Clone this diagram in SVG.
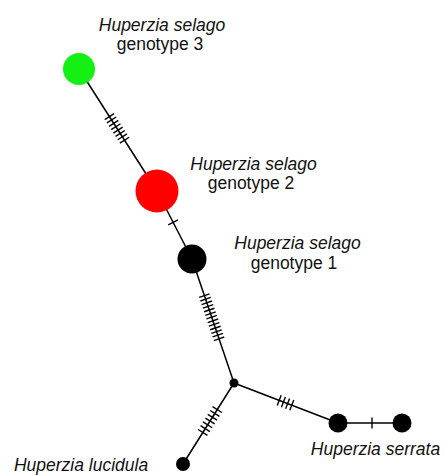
<svg xmlns="http://www.w3.org/2000/svg" width="445" height="475" viewBox="0 0 445 475">
<style>
.edge{stroke:#000;stroke-width:1.5;fill:none}
.tick line{stroke:#000;stroke-width:1.4}
.lbl{font-family:"Liberation Sans",Arial,sans-serif;font-size:17.5px;fill:#111;text-anchor:middle}
.it{font-style:italic}
</style>
<g id="connectors">
<line class="edge" x1="79" y1="69" x2="157" y2="191"/>
<line class="edge" x1="157" y1="191" x2="192" y2="259"/>
<line class="edge" x1="192" y1="259" x2="234" y2="383"/>
<line class="edge" x1="234" y1="383" x2="338" y2="423"/>
<line class="edge" x1="338" y1="423" x2="402" y2="423"/>
<line class="edge" x1="234" y1="383" x2="183" y2="464"/>
<g class="tick" transform="translate(109.4,116.6) rotate(57.4)">
<line x1="0" y1="-5.5" x2="0" y2="5.5"/><line x1="4" y1="-5.5" x2="4" y2="5.5"/><line x1="8" y1="-5.5" x2="8" y2="5.5"/><line x1="12" y1="-5.5" x2="12" y2="5.5"/><line x1="16" y1="-5.5" x2="16" y2="5.5"/><line x1="20" y1="-5.5" x2="20" y2="5.5"/><line x1="24" y1="-5.5" x2="24" y2="5.5"/><line x1="28" y1="-5.5" x2="28" y2="5.5"/>
</g>
<g class="tick" transform="translate(173.1,222.3) rotate(62.8)">
<line x1="0" y1="-5.5" x2="0" y2="5.5"/>
</g>
<g class="tick" transform="translate(204.4,295.6) rotate(71.3)">
<line x1="0" y1="-5.5" x2="0" y2="5.5"/><line x1="3.8" y1="-5.5" x2="3.8" y2="5.5"/><line x1="7.6" y1="-5.5" x2="7.6" y2="5.5"/><line x1="11.4" y1="-5.5" x2="11.4" y2="5.5"/><line x1="15.2" y1="-5.5" x2="15.2" y2="5.5"/><line x1="19" y1="-5.5" x2="19" y2="5.5"/><line x1="22.8" y1="-5.5" x2="22.8" y2="5.5"/><line x1="26.6" y1="-5.5" x2="26.6" y2="5.5"/><line x1="30.4" y1="-5.5" x2="30.4" y2="5.5"/><line x1="34.2" y1="-5.5" x2="34.2" y2="5.5"/><line x1="38" y1="-5.5" x2="38" y2="5.5"/><line x1="41.8" y1="-5.5" x2="41.8" y2="5.5"/><line x1="45.6" y1="-5.5" x2="45.6" y2="5.5"/>
</g>
<g class="tick" transform="translate(279.2,400.4) rotate(21)">
<line x1="0" y1="-5.5" x2="0" y2="5.5"/><line x1="4.5" y1="-5.5" x2="4.5" y2="5.5"/><line x1="9" y1="-5.5" x2="9" y2="5.5"/><line x1="13.5" y1="-5.5" x2="13.5" y2="5.5"/>
</g>
<g class="tick" transform="translate(372,423)">
<line x1="0" y1="-5.5" x2="0" y2="5.5"/>
</g>
<g class="tick" transform="translate(217.2,409.6) rotate(122.2)">
<line x1="0" y1="-5.5" x2="0" y2="5.5"/><line x1="4.5" y1="-5.5" x2="4.5" y2="5.5"/><line x1="9" y1="-5.5" x2="9" y2="5.5"/><line x1="13.5" y1="-5.5" x2="13.5" y2="5.5"/><line x1="18" y1="-5.5" x2="18" y2="5.5"/><line x1="22.5" y1="-5.5" x2="22.5" y2="5.5"/><line x1="27" y1="-5.5" x2="27" y2="5.5"/>
</g>
</g>
<g id="genotype3">
<circle cx="79" cy="69" r="16" fill="#14f014"/>
<text class="lbl it" x="162" y="30.5">Huperzia selago</text>
<text class="lbl" x="160" y="50">genotype 3</text>
</g>
<g id="genotype2">
<circle cx="157" cy="191" r="21.5" fill="#ff0000"/>
<text class="lbl it" x="253.5" y="169.5">Huperzia selago</text>
<text class="lbl" x="251" y="189">genotype 2</text>
</g>
<g id="genotype1">
<circle cx="192" cy="259" r="14.5" fill="#000"/>
<text class="lbl it" x="297.5" y="249">Huperzia selago</text>
<text class="lbl" x="294" y="268.5">genotype 1</text>
</g>
<g id="junction">
<circle cx="234" cy="383" r="4.5" fill="#000"/>
</g>
<g id="serrata1">
<circle cx="338" cy="423" r="9.5" fill="#000"/>
</g>
<g id="serrata2">
<circle cx="402" cy="423" r="9.5" fill="#000"/>
<text class="lbl it" x="375.5" y="455">Huperzia serrata</text>
</g>
<g id="lucidula">
<circle cx="183" cy="464" r="7" fill="#000"/>
<text class="lbl it" x="81" y="471">Huperzia lucidula</text>
</g>
</svg>
